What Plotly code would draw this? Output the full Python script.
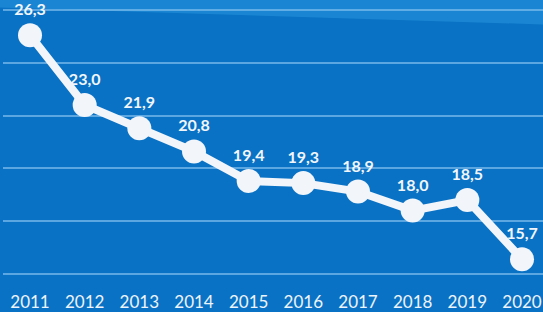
import plotly.graph_objects as go

years = ["2011", "2012", "2013", "2014", "2015", "2016", "2017", "2018", "2019", "2020"]
values = [26.3, 23.0, 21.9, 20.8, 19.4, 19.3, 18.9, 18.0, 18.5, 15.7]
labels = [f"{v:.1f}".replace(".", ",") for v in values]
grid_vals = [15, 17.5, 20, 22.5, 25, 27.5]

fig = go.Figure()
fig.add_trace(go.Scatter(
    x=years, y=values, mode="lines+markers+text",
    text=labels, textposition="top center",
    textfont=dict(family="Lato", size=16, color="#f2f6fb", weight="bold"),
    line=dict(color="#f2f5fa", width=8),
    marker=dict(size=24, color="#f2f5fa"),
    cliponaxis=False, hoverinfo="skip",
))

fig.update_layout(
    width=543, height=312,
    margin=dict(l=3, r=0, t=0, b=22),
    paper_bgcolor="#0a72c4",
    plot_bgcolor="rgba(0,0,0,0)",
    showlegend=False,
    shapes=[dict(type="path", xref="paper", yref="paper",
                 path="M -0.02 1 L 1.1 1 L 1.1 0.91 L -0.02 0.975 Z",
                 fillcolor="#1a86d3", line=dict(width=0), layer="below")],
)
fig.update_xaxes(
    range=[-0.494, 9.384], showgrid=False, zeroline=False, showline=False,
    tickfont=dict(family="Lato", size=17, color="#eef4fb"), ticks="",
)
fig.update_yaxes(
    range=[14.24, 27.97], tickvals=grid_vals, showticklabels=False,
    showgrid=True, gridcolor="rgba(120,185,235,0.75)", gridwidth=1.5,
    zeroline=False, showline=False,
)
fig.write_html(
    "out.html",
    config={"displayModeBar": False},
    post_script="document.body.style.margin='0';document.body.style.overflow='hidden';",
)
